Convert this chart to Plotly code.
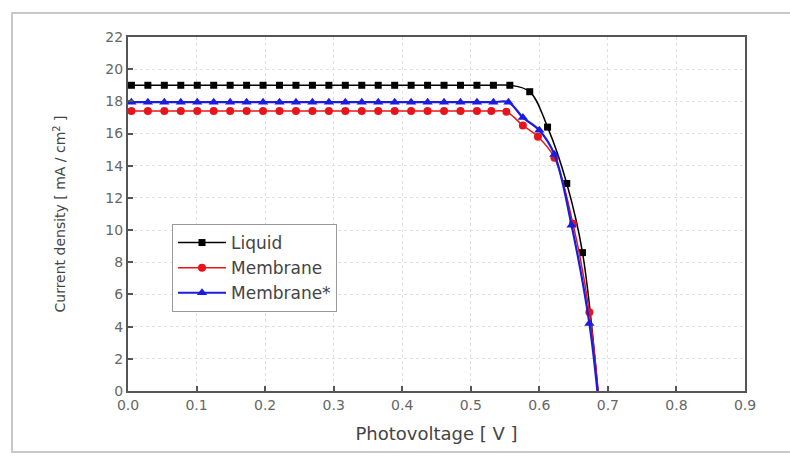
import plotly.graph_objects as go

# ---- data ----
liquid_v = [0.005, 0.029, 0.053, 0.077, 0.101, 0.125, 0.149, 0.173, 0.197, 0.221,
            0.245, 0.269, 0.293, 0.317, 0.341, 0.365, 0.389, 0.413, 0.437, 0.461,
            0.485, 0.509, 0.533, 0.557, 0.586, 0.612, 0.640, 0.663, 0.688]
liquid_j = [19.0, 19.0, 19.0, 19.0, 19.0, 19.0, 19.0, 19.0, 19.0, 19.0,
            19.0, 19.0, 19.0, 19.0, 19.0, 19.0, 19.0, 19.0, 19.0, 19.0,
            19.0, 19.0, 19.0, 19.0, 18.6, 16.4, 12.9, 8.6, -1.2]

memb_v = [0.005, 0.029, 0.053, 0.077, 0.101, 0.125, 0.149, 0.173, 0.197, 0.221,
          0.245, 0.269, 0.293, 0.317, 0.341, 0.365, 0.389, 0.413, 0.437, 0.461,
          0.485, 0.509, 0.530, 0.552, 0.576, 0.598, 0.622, 0.649, 0.673, 0.688]
memb_j = [17.4, 17.4, 17.4, 17.4, 17.4, 17.4, 17.4, 17.4, 17.4, 17.4,
          17.4, 17.4, 17.4, 17.4, 17.4, 17.4, 17.4, 17.4, 17.4, 17.4,
          17.4, 17.4, 17.4, 17.35, 16.5, 15.8, 14.5, 10.4, 4.9, -1.0]

membs_v = [0.005, 0.029, 0.053, 0.077, 0.101, 0.125, 0.149, 0.173, 0.197, 0.221,
           0.245, 0.269, 0.293, 0.317, 0.341, 0.365, 0.389, 0.413, 0.437, 0.461,
           0.485, 0.509, 0.533, 0.555, 0.576, 0.600, 0.622, 0.647, 0.673, 0.687]
membs_j = [17.95, 17.95, 17.95, 17.95, 17.95, 17.95, 17.95, 17.95, 17.95, 17.95,
           17.95, 17.95, 17.95, 17.95, 17.95, 17.95, 17.95, 17.95, 17.95, 17.95,
           17.95, 17.95, 17.95, 17.95, 17.0, 16.2, 14.7, 10.3, 4.2, -1.0]

x_ticks = [0.0, 0.1, 0.2, 0.3, 0.4, 0.5, 0.6, 0.7, 0.8, 0.9]
y_ticks = [0, 2, 4, 6, 8, 10, 12, 14, 16, 18, 20, 22]

series = [
    ("Liquid", liquid_v, liquid_j, "#000000", "square", 7, 1.5),
    ("Membrane", memb_v, memb_j, "#e8141b", "circle", 8, 1.5),
    ("Membrane*", membs_v, membs_j, "#1c1ce0", "triangle-up", 9, 2.2),
]

FONT = "DejaVu Sans, Verdana, sans-serif"

fig = go.Figure()
for name, xv, yv, col, sym, ms, lw in series:
    fig.add_trace(go.Scatter(
        x=xv, y=yv, name=name, mode="lines+markers",
        line=dict(color=col, width=lw, shape="spline", smoothing=1.0),
        marker=dict(symbol=sym, size=ms, color=col),
        cliponaxis=True,
    ))

axis_common = dict(
    showline=True, linecolor="#555555", linewidth=2, mirror=True,
    ticks="inside", ticklen=5, tickwidth=1.5, tickcolor="#555555",
    showgrid=True, gridcolor="#e0e0e0", griddash="dot", gridwidth=1,
    zeroline=False,
    tickfont=dict(family=FONT, size=14, color="#666666"),
)

fig.update_xaxes(
    range=[0, 0.9], tickvals=x_ticks, tickformat=".1f",
    title=dict(text="Photovoltage [ V ]", standoff=16,
               font=dict(family=FONT, size=18, color="#444444")),
    **axis_common,
)
fig.update_yaxes(
    range=[0, 22], tickvals=y_ticks,
    title=dict(text="Current density [ mA / cm<sup>2</sup> ]", standoff=36,
               font=dict(family=FONT, size=14, color="#444444")),
    **axis_common,
)

fig.update_layout(
    width=790, height=457,
    margin=dict(l=128, r=45, t=37, b=66),
    paper_bgcolor="white", plot_bgcolor="white",
    showlegend=True,
    legend=dict(
        x=(172 - 128) / 617, y=(391 - 224) / 354, xanchor="left", yanchor="top",
        bgcolor="white", bordercolor="#999999", borderwidth=1,
        font=dict(family=FONT, size=17, color="#444444"),
        itemwidth=48, tracegroupgap=0,
    ),
    shapes=[
        dict(type="rect", xref="paper", yref="paper",
             x0=(12 - 128) / 617, x1=(800 - 128) / 617,
             y0=(391 - 452) / 354, y1=(391 - 13) / 354,
             line=dict(color="#c8c8c8", width=2), layer="below"),
    ],
)

fig.write_html("out.html")
